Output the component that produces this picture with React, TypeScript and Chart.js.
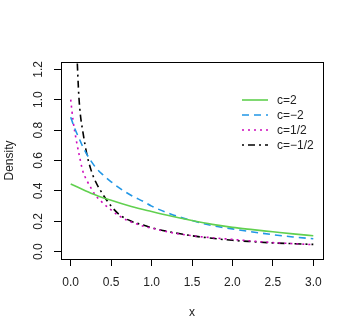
import { useEffect, useRef } from "react";
import { Chart, registerables } from "chart.js";

Chart.register(...registerables);

const xTicks = [0, 0.5, 1, 1.5, 2, 2.5, 3];
const yTicks = [0, 0.2, 0.4, 0.6, 0.8, 1.0, 1.2];

const seriesLabels = ["c=2", "c=\u22122", "c=1/2", "c=\u22121/2"];

const xGreen = [0, 0.25, 0.5, 0.75, 1, 1.25, 1.5, 1.75, 2, 2.25, 2.5, 2.75, 3];
const yGreen = [0.446, 0.385, 0.338, 0.297, 0.264, 0.233, 0.205, 0.18, 0.16, 0.145, 0.131, 0.117, 0.105];

const xBlue = [0, 0.05, 0.1, 0.15, 0.2, 0.3, 0.4, 0.5, 0.6, 0.75, 0.9, 1, 1.25, 1.5, 1.75, 2, 2.25, 2.5, 2.75, 3];
const yBlue = [0.885, 0.81, 0.75, 0.69, 0.64, 0.56, 0.505, 0.46, 0.42, 0.37, 0.33, 0.3, 0.245, 0.205, 0.172, 0.15, 0.13, 0.112, 0.097, 0.085];

const xMagenta = [0, 0.03, 0.07, 0.1, 0.15, 0.2, 0.25, 0.3, 0.4, 0.5, 0.6, 0.75, 0.9, 1, 1.25, 1.5, 1.75, 2, 2.25, 2.5, 2.75, 3];
const yMagenta = [1.0, 0.86, 0.73, 0.65, 0.53, 0.468, 0.42, 0.375, 0.32, 0.275, 0.235, 0.195, 0.168, 0.155, 0.125, 0.105, 0.092, 0.081, 0.07, 0.06, 0.053, 0.046];

const xBlack = [0.06, 0.08, 0.1, 0.12, 0.15, 0.2, 0.25, 0.3, 0.4, 0.5, 0.6, 0.75, 0.9, 1, 1.25, 1.5, 1.75, 2, 2.25, 2.5, 2.75, 3];
const yBlack = [1.5, 1.26, 1.03, 0.9, 0.79, 0.64, 0.54, 0.47, 0.375, 0.3, 0.245, 0.2, 0.175, 0.158, 0.128, 0.105, 0.088, 0.075, 0.066, 0.058, 0.053, 0.048];

const toPts = (xs: number[], ys: number[]) => xs.map((x, i) => ({ x, y: ys[i] }));

const FONT = '"Liberation Sans", Arial, Helvetica, sans-serif';
const TEXT = "#222";

const boxPlugin = {
  id: "rbox",
  afterDraw(chart: any) {
    const { ctx, chartArea: a } = chart;
    ctx.save();
    ctx.strokeStyle = "#000";
    ctx.lineWidth = 1;
    ctx.setLineDash([]);
    ctx.strokeRect(Math.round(a.left) + 0.5, Math.round(a.top) + 0.5, Math.round(a.right - a.left), Math.round(a.bottom - a.top));
    ctx.restore();
  },
};

const legendPlugin = {
  id: "rlegend",
  afterDraw(chart: any) {
    const ctx = chart.ctx;
    chart.data.datasets.forEach((ds: any, i: number) => {
      const y = 100 + i * 15;
      ctx.save();
      ctx.strokeStyle = ds.borderColor;
      ctx.lineWidth = ds.borderWidth;
      ctx.setLineDash(ds.borderDash || []);
      ctx.beginPath();
      ctx.moveTo(242, y);
      ctx.lineTo(268, y);
      ctx.stroke();
      ctx.setLineDash([]);
      ctx.fillStyle = TEXT;
      ctx.font = `12px ${FONT}`;
      ctx.textBaseline = "middle";
      ctx.textAlign = "left";
      ctx.fillText(ds.label, 277, y + 1);
      ctx.restore();
    });
  },
};

export default function App() {
  const ref = useRef<HTMLCanvasElement>(null);
  useEffect(() => {
    if (!ref.current) return;
    Chart.defaults.font.family = FONT;
    Chart.defaults.font.size = 12;
    Chart.defaults.color = TEXT;
    const common = {
      showLine: true,
      pointRadius: 0,
      borderWidth: 1.6,
      fill: false,
      cubicInterpolationMode: "monotone" as const,
      clip: 0,
    };
    const chart = new Chart(ref.current, {
      type: "scatter",
      data: {
        datasets: [
          { ...common, label: seriesLabels[0], data: toPts(xGreen, yGreen), borderColor: "#61D04F", backgroundColor: "#61D04F", borderDash: [] },
          { ...common, label: seriesLabels[1], data: toPts(xBlue, yBlue), borderColor: "#2297E6", backgroundColor: "#2297E6", borderDash: [7, 5] },
          { ...common, label: seriesLabels[2], data: toPts(xMagenta, yMagenta), borderColor: "#CD0BBC", backgroundColor: "#CD0BBC", borderDash: [2, 4] },
          { ...common, label: seriesLabels[3], data: toPts(xBlack, yBlack), borderColor: "#000000", backgroundColor: "#000000", borderDash: [2, 4, 7, 4] },
        ],
      },
      options: {
        animation: false,
        responsive: false,
        events: [],
        layout: { padding: { top: 62, right: 31, left: 0, bottom: 0 } },
        plugins: { legend: { display: false }, tooltip: { enabled: false } },
        scales: {
          x: {
            type: "linear",
            min: -0.12,
            max: 3.12,
            afterFit: (s: any) => { s.height = 77; },
            afterBuildTicks: (s: any) => { s.ticks = xTicks.map((v) => ({ value: v })); },
            border: { display: false },
            grid: { drawOnChartArea: false, drawTicks: true, tickLength: 7, color: "#000", tickColor: "#000", lineWidth: 1 },
            ticks: { callback: (v: any) => Number(v).toFixed(1), padding: 9, maxRotation: 0, minRotation: 0, color: TEXT, font: { size: 12 } },
            title: { display: true, text: "x", color: TEXT, font: { size: 12 }, padding: { top: 0, bottom: 16 } },
          },
          y: {
            type: "linear",
            min: -0.048,
            max: 1.248,
            afterFit: (s: any) => { s.width = 61; },
            afterBuildTicks: (s: any) => { s.ticks = yTicks.map((v) => ({ value: v })); },
            border: { display: false },
            grid: { drawOnChartArea: false, drawTicks: true, tickLength: 7, color: "#000", tickColor: "#000", lineWidth: 1 },
            ticks: { callback: (v: any) => Number(v).toFixed(1), padding: 7, minRotation: 90, maxRotation: 90, crossAlign: "center", color: TEXT, font: { size: 12 } },
            title: { display: true, text: "Density", color: TEXT, font: { size: 12 }, padding: { top: 2, bottom: 0 } },
          },
        },
      },
      plugins: [boxPlugin, legendPlugin],
    } as any);
    return () => chart.destroy();
  }, []);
  return (
    <div style={{ position: "absolute", left: 0, top: 0, width: 354, height: 336, background: "#fff" }}>
      <canvas ref={ref} width={354} height={336} style={{ display: "block" }} />
    </div>
  );
}
